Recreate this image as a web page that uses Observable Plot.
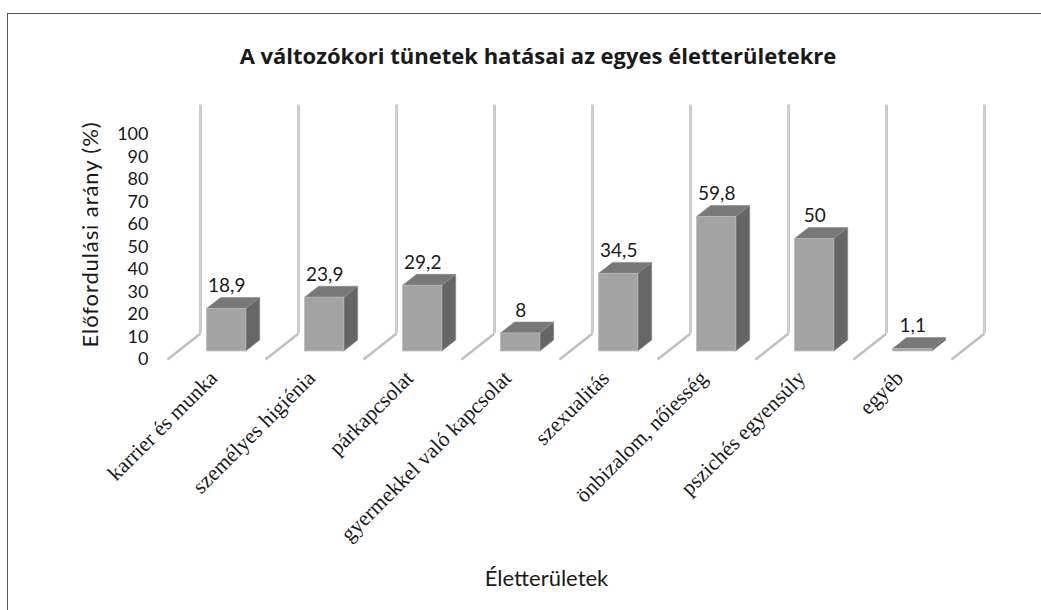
<!DOCTYPE html>
<html>
<head>
<meta charset="utf-8">
<script src="https://cdn.jsdelivr.net/npm/d3@7"></script>
<script src="https://cdn.jsdelivr.net/npm/@observablehq/plot@0.6"></script>
<style>
  html, body { margin: 0; padding: 0; background: #fff; }
  #wrap { position: relative; width: 1041px; height: 610px; overflow: hidden; background: #fff; }
  #frame { position: absolute; left: 7px; top: 13px; width: 1100px; height: 700px;
           border-top: 1.6px solid #555; border-left: 1.6px solid #555; }
  #title { position: absolute; left: 538px; top: 40px; transform: translateX(-50%); white-space: nowrap;
           font-family: "Open Sans", Lato, sans-serif; font-weight: bold; font-size: 22px; line-height: 30px; color: #1a1a1a; }
  #chart { position: absolute; left: 0; top: 90px; }
  #chart svg { overflow: visible; }
</style>
</head>
<body>
<div id="wrap">
  <div id="frame"></div>
  <div id="title"></div>
  <div id="chart"></div>
</div>
<script>
// ---- data ----
const chartTitle = "A változókori tünetek hatásai az egyes életterületekre";
const yTitle = "Előfordulási arány (%)";
const xTitle = "Életterületek";
const categories = ["karrier és munka", "személyes higiénia", "párkapcsolat", "gyermekkel való kapcsolat",
                    "szexualitás", "önbizalom, nőiesség", "pszichés egyensúly", "egyéb"];
const values = [18.9, 23.9, 29.2, 8, 34.5, 59.8, 50, 1.1];
const valueLabels = ["18,9", "23,9", "29,2", "8", "34,5", "59,8", "50", "1,1"];
const yTicks = [0, 10, 20, 30, 40, 50, 60, 70, 80, 90, 100];

document.getElementById("title").textContent = chartTitle;

// ---- projection (pseudo-3D) settings, in scale units ----
const depthX = 0.337;   // x shift from front plane to back plane (category units)
const depthY = 11.56;   // y shift from front plane to back plane (value units)
const t0 = 0.31, t1 = 0.73; // bar depth (front, back) as fraction of floor depth
const hw = 0.2;         // half bar width
const wallTop = 101.5;

const rows = categories.map((c, i) => ({i, cat: c, v: values[i], lab: valueLabels[i]}));
const walls = d3.range(categories.length + 1);

const xl = d => d.i + 0.5 - hw;
const xr = d => d.i + 0.5 + hw;

// side faces (vertical parallelograms)
const sideFaces = rows.flatMap(d => [t0, t1].map(t => ({i: d.i, x: xr(d) + t * depthX, y1: t * depthY, y2: d.v + t * depthY})));
// top faces (horizontal parallelograms)
const topFaces = rows.flatMap(d => [t0, t1].map(t => ({i: d.i, y: d.v + t * depthY, x1: xl(d) + t * depthX, x2: xr(d) + t * depthX})));

const sans = "Lato, 'Open Sans', sans-serif";

const plot = Plot.plot({
  width: 1041,
  height: 520,
  marginTop: 44,
  marginBottom: 251,
  marginLeft: 167,
  marginRight: 90,
  x: {domain: [0, categories.length], axis: null},
  y: {domain: [0, 100], axis: null},
  style: {background: "transparent", overflow: "visible"},
  marks: [
    // floor diagonals
    Plot.link(walls, {x1: d => d, y1: 0, x2: d => d + depthX, y2: depthY, stroke: "#c0c0c0", strokeWidth: 2.5}),
    // wall lines
    Plot.ruleX(walls, {x: d => d + depthX, y1: depthY, y2: depthY + wallTop, stroke: "#bcbcbc", strokeWidth: 2.6}),
    Plot.ruleX(walls, {x: d => d + depthX, y1: depthY, y2: depthY + wallTop, stroke: "#d8d8d8", strokeWidth: 0.8}),
    // bars
    Plot.areaY(sideFaces, {x: "x", y1: "y1", y2: "y2", z: "i", fill: "#666666", stroke: "#888888", strokeWidth: 0.6}),
    Plot.areaX(topFaces, {y: "y", x1: "x1", x2: "x2", z: "i", fill: "#787878", stroke: "#8a8a8a", strokeWidth: 0.6}),
    Plot.rect(rows, {x1: d => xl(d) + t0 * depthX, x2: d => xr(d) + t0 * depthX,
                     y1: t0 * depthY, y2: d => d.v + t0 * depthY, fill: "#a3a3a3", stroke: "#b8b8b8", strokeWidth: 0.8, inset: 0}),
    // value labels
    Plot.text(rows, {x: d => d.i + 0.5 + t0 * depthX, y: d => d.v + t1 * depthY + 2.67, text: "lab",
                     lineAnchor: "bottom", textAnchor: "middle", fontSize: 19, fill: "#1a1a1a", fontFamily: sans}),
    // y axis
    Plot.axisY(yTicks, {tickSize: 0, tickPadding: 19, fontSize: 18, label: null, fill: "#1a1a1a", fontFamily: sans}),
    // category labels
    Plot.text(rows, {x: d => d.i + 0.5, y: 0, text: "cat", rotate: -45, textAnchor: "end", lineAnchor: "bottom",
                     dx: 2, dy: 20, fontSize: 21.5, fill: "#1a1a1a", fontFamily: "'Liberation Serif', 'Times New Roman', serif"}),
    // axis titles
    Plot.text([yTitle], {frameAnchor: "left", text: d => d, rotate: -90, textAnchor: "middle", lineAnchor: "middle",
                         dx: -77, dy: -12.5, fontSize: 22, fill: "#1a1a1a", fontFamily: sans}),
    Plot.text([xTitle], {frameAnchor: "bottom", text: d => d, textAnchor: "middle", lineAnchor: "middle",
                         dx: -13, dy: 219, fontSize: 22, fill: "#1a1a1a", fontFamily: sans})
  ]
});
// slight letter spacing on the y-axis title to match the reference's wider face
d3.select(plot).selectAll("text").filter(function() { return this.textContent === yTitle; })
  .attr("letter-spacing", "0.9px");
document.getElementById("chart").appendChild(plot);
</script>
</body>
</html>
